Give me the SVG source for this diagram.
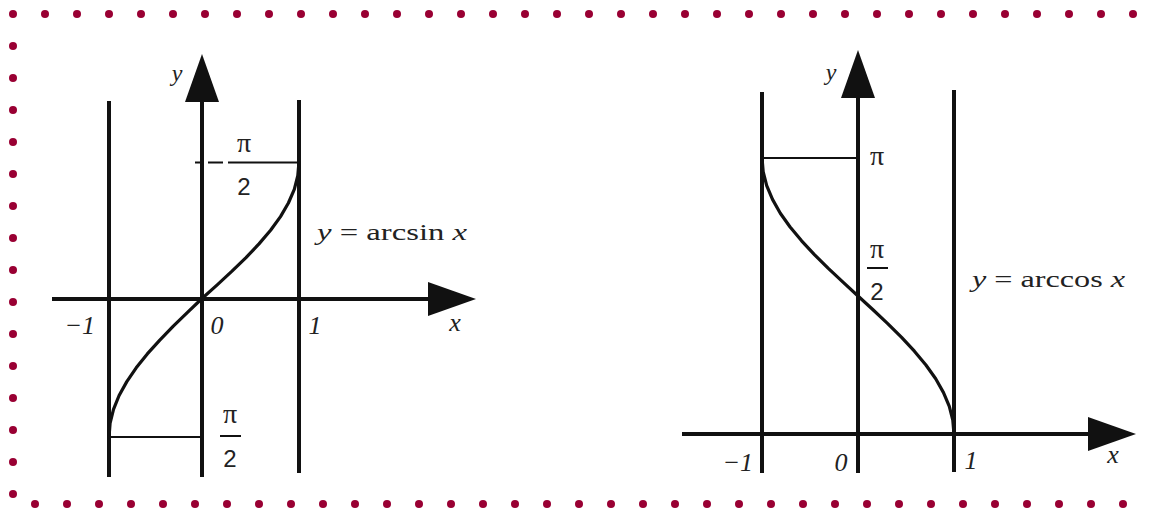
<svg xmlns="http://www.w3.org/2000/svg" width="1150" height="508" viewBox="0 0 1150 508">
<style>
.dot{fill:#990033}
.ax{stroke:#111;stroke-width:4;fill:none;stroke-linecap:butt}
.thin{stroke:#111;stroke-width:2;fill:none}
.curve{stroke:#111;stroke-width:3.2;fill:none;stroke-linejoin:round;stroke-linecap:round}
.lbl{font-family:"Liberation Serif",serif;font-style:italic;fill:#222}
.num{font-family:"Liberation Serif",serif;fill:#222}
.two{font-family:"Liberation Sans",sans-serif;fill:#222;font-size:24px}
.fn{font-family:"Liberation Serif",serif;fill:#222;font-size:24px}
</style>
<defs>
<marker id="arr" markerUnits="userSpaceOnUse" markerWidth="50" markerHeight="36" refX="2" refY="17" orient="auto">
<path d="M0,0 L48,17 L0,34 Z" fill="#111"/>
</marker>
<circle id="d" r="4" class="dot"/>
</defs>
<rect width="1150" height="508" fill="#fff"/>
<g id="border">
<g id="top-row">
<use href="#d" x="13" y="14"/><use href="#d" x="45" y="14"/><use href="#d" x="77" y="14"/><use href="#d" x="109" y="14"/><use href="#d" x="141" y="14"/><use href="#d" x="173" y="14"/><use href="#d" x="205" y="14"/><use href="#d" x="237" y="14"/><use href="#d" x="269" y="14"/><use href="#d" x="301" y="14"/><use href="#d" x="333" y="14"/><use href="#d" x="365" y="14"/><use href="#d" x="397" y="14"/><use href="#d" x="429" y="14"/><use href="#d" x="461" y="14"/><use href="#d" x="493" y="14"/><use href="#d" x="525" y="14"/><use href="#d" x="557" y="14"/><use href="#d" x="589" y="14"/><use href="#d" x="621" y="14"/><use href="#d" x="653" y="14"/><use href="#d" x="685" y="14"/><use href="#d" x="717" y="14"/><use href="#d" x="749" y="14"/><use href="#d" x="781" y="14"/><use href="#d" x="813" y="14"/><use href="#d" x="845" y="14"/><use href="#d" x="877" y="14"/><use href="#d" x="909" y="14"/><use href="#d" x="941" y="14"/><use href="#d" x="973" y="14"/><use href="#d" x="1005" y="14"/><use href="#d" x="1037" y="14"/><use href="#d" x="1069" y="14"/><use href="#d" x="1101" y="14"/><use href="#d" x="1133" y="14"/>
</g>
<g id="left-col">
<use href="#d" x="13" y="46"/><use href="#d" x="13" y="78"/><use href="#d" x="13" y="110"/><use href="#d" x="13" y="142"/><use href="#d" x="13" y="174"/><use href="#d" x="13" y="206"/><use href="#d" x="13" y="238"/><use href="#d" x="13" y="270"/><use href="#d" x="13" y="302"/><use href="#d" x="13" y="334"/><use href="#d" x="13" y="366"/><use href="#d" x="13" y="398"/><use href="#d" x="13" y="430"/><use href="#d" x="13" y="462"/><use href="#d" x="13" y="494"/>
</g>
<g id="bottom-row">
<use href="#d" x="35" y="504"/><use href="#d" x="67" y="504"/><use href="#d" x="99" y="504"/><use href="#d" x="131" y="504"/><use href="#d" x="163" y="504"/><use href="#d" x="195" y="504"/><use href="#d" x="227" y="504"/><use href="#d" x="259" y="504"/><use href="#d" x="291" y="504"/><use href="#d" x="323" y="504"/><use href="#d" x="355" y="504"/><use href="#d" x="387" y="504"/><use href="#d" x="419" y="504"/><use href="#d" x="451" y="504"/><use href="#d" x="483" y="504"/><use href="#d" x="515" y="504"/><use href="#d" x="547" y="504"/><use href="#d" x="579" y="504"/><use href="#d" x="611" y="504"/><use href="#d" x="643" y="504"/><use href="#d" x="675" y="504"/><use href="#d" x="707" y="504"/><use href="#d" x="739" y="504"/><use href="#d" x="771" y="504"/><use href="#d" x="803" y="504"/><use href="#d" x="835" y="504"/><use href="#d" x="867" y="504"/><use href="#d" x="899" y="504"/><use href="#d" x="931" y="504"/><use href="#d" x="963" y="504"/><use href="#d" x="995" y="504"/><use href="#d" x="1027" y="504"/><use href="#d" x="1059" y="504"/><use href="#d" x="1091" y="504"/><use href="#d" x="1123" y="504"/>
</g>
</g>

<g id="arcsin-graph">
<g id="arcsin-axes">
<line class="ax" x1="109" y1="101" x2="109" y2="477"/>
<line class="ax" x1="299" y1="100" x2="299" y2="473"/>
<line class="ax" x1="202" y1="477" x2="202" y2="100" marker-end="url(#arr)"/>
<line class="ax" x1="52" y1="299" x2="430" y2="299" marker-end="url(#arr)"/>
<path class="thin" d="M195,162.5 H200 M208,162.5 H223 M228,162.5 H299"/>
<line class="thin" x1="110" y1="437" x2="203" y2="437"/>
<line class="thin" x1="220" y1="436" x2="241" y2="436"/>
</g>
<path class="curve" d="M109,437 L110.1,423.2 L113.5,409.3 L119.1,395.5 L126.8,381.6 L136.2,367.8 L147.3,353.9 L159.8,340.1 L173.3,326.2 L187.5,312.4 L202,298.5 L217.2,284.9 L232,271.2 L246,257.6 L259,243.9 L270.6,230.3 L280.5,216.6 L288.4,203 L294.3,189.3 L297.8,175.7 L299,162"/>
<g id="arcsin-labels">
<text class="lbl" x="177" y="81" font-size="24" text-anchor="middle">y</text>
<text class="num" x="244" y="152" font-size="28" text-anchor="middle">π</text>
<text class="two" x="244" y="195" text-anchor="middle">2</text>
<text class="fn" x="317" y="240" textLength="150" lengthAdjust="spacingAndGlyphs"><tspan font-style="italic">y</tspan> = arcsin <tspan font-style="italic">x</tspan></text>
<text class="lbl" x="95" y="334" font-size="26" text-anchor="end">−1</text>
<text class="lbl" x="217" y="334" font-size="26" text-anchor="middle">0</text>
<text class="lbl" x="315" y="334" font-size="26" text-anchor="middle">1</text>
<text class="lbl" x="455" y="331" font-size="26" text-anchor="middle">x</text>
<text class="num" x="230" y="423" font-size="28" text-anchor="middle">π</text>
<text class="two" x="230" y="467" text-anchor="middle">2</text>
</g>
</g>

<g id="arccos-graph">
<g id="arccos-axes">
<line class="ax" x1="762" y1="92" x2="762" y2="473"/>
<line class="ax" x1="954" y1="90" x2="954" y2="472"/>
<line class="ax" x1="858" y1="473" x2="858" y2="96" marker-end="url(#arr)"/>
<line class="ax" x1="682" y1="434" x2="1090" y2="434" marker-end="url(#arr)"/>
<line class="thin" x1="762" y1="158" x2="858" y2="158"/>
<line class="thin" x1="867" y1="268" x2="888" y2="268"/>
</g>
<path class="curve" d="M762,158 L763.2,171.8 L766.7,185.6 L772.5,199.4 L780.3,213.2 L790.1,227 L801.6,240.8 L814.4,254.6 L828.3,268.4 L843,282.2 L858,296 L873,309.8 L887.7,323.6 L901.6,337.4 L914.4,351.2 L925.9,365 L935.7,378.8 L943.5,392.6 L949.3,406.4 L952.8,420.2 L954,434"/>
<g id="arccos-labels">
<text class="lbl" x="831" y="80" font-size="24" text-anchor="middle">y</text>
<text class="num" x="877" y="165" font-size="28" text-anchor="middle">π</text>
<text class="num" x="877" y="258" font-size="28" text-anchor="middle">π</text>
<text class="two" x="877" y="300" text-anchor="middle">2</text>
<text class="fn" x="972" y="287" textLength="153" lengthAdjust="spacingAndGlyphs"><tspan font-style="italic">y</tspan> = arccos <tspan font-style="italic">x</tspan></text>
<text class="lbl" x="753" y="471" font-size="26" text-anchor="end">−1</text>
<text class="lbl" x="841" y="471" font-size="26" text-anchor="middle">0</text>
<text class="lbl" x="971" y="469" font-size="26" text-anchor="middle">1</text>
<text class="lbl" x="1113" y="463" font-size="26" text-anchor="middle">x</text>
</g>
</g>
</svg>
